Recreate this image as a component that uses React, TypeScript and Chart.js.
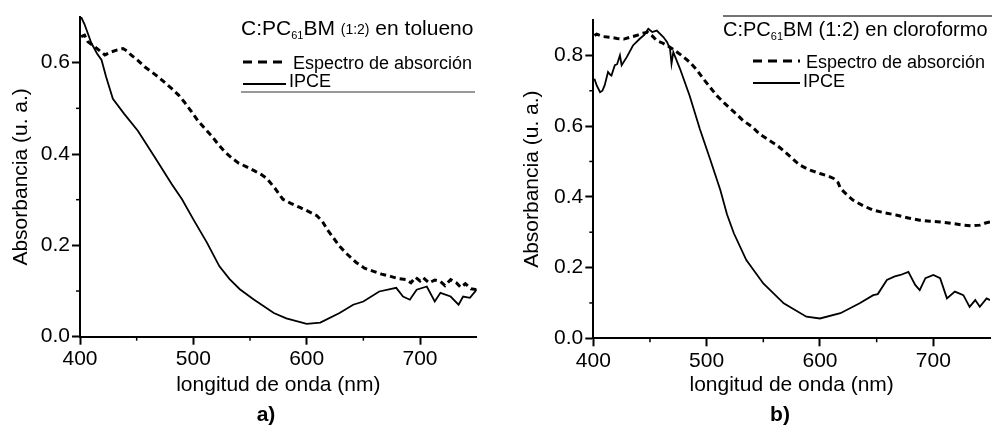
import React, { useEffect, useRef } from "react";
import { Chart, registerables } from "chart.js";
Chart.register(...registerables);

const FONT = "Arial, 'Liberation Sans', Helvetica, sans-serif";

// ---- a) tolueno ----
const TOL_ABS_X = [401, 404, 407, 413, 418, 422, 428, 433, 438, 442, 445, 451, 457, 463, 469, 475, 481, 487, 492, 498, 504, 510, 516, 522, 528, 534, 540, 547, 554, 560, 565, 572, 579, 586, 594, 601, 609, 614, 618, 624, 629, 636, 644, 651, 659, 666, 674, 681, 688, 692, 696, 700, 703, 708, 713, 718, 722, 727, 732, 736, 740, 745, 750];
const TOL_ABS_Y = [0.657, 0.66, 0.646, 0.635, 0.625, 0.617, 0.624, 0.628, 0.631, 0.625, 0.617, 0.605, 0.591, 0.58, 0.569, 0.556, 0.543, 0.529, 0.514, 0.494, 0.473, 0.456, 0.44, 0.421, 0.404, 0.391, 0.38, 0.372, 0.363, 0.355, 0.346, 0.325, 0.301, 0.292, 0.283, 0.275, 0.265, 0.252, 0.235, 0.215, 0.198, 0.18, 0.162, 0.15, 0.143, 0.137, 0.132, 0.127, 0.125, 0.118, 0.13, 0.122, 0.129, 0.118, 0.124, 0.121, 0.112, 0.125, 0.118, 0.108, 0.116, 0.105, 0.103];
const TOL_IPCE_X = [401, 404, 410, 415, 419, 423, 429, 439, 451, 466, 481, 490, 500, 512, 523, 532, 541, 553, 571, 582, 600, 612, 629, 641, 650, 664, 679, 685, 691, 697, 706, 713, 718, 727, 734, 738, 744, 750];
const TOL_IPCE_Y = [0.7, 0.684, 0.643, 0.62, 0.606, 0.569, 0.521, 0.488, 0.451, 0.393, 0.334, 0.301, 0.257, 0.206, 0.154, 0.126, 0.104, 0.082, 0.052, 0.04, 0.028, 0.031, 0.052, 0.07, 0.077, 0.099, 0.107, 0.088, 0.081, 0.103, 0.11, 0.077, 0.096, 0.088, 0.07, 0.088, 0.085, 0.103];

// ---- b) cloroformo ----
const CLO_ABS_X = [401, 403, 409, 415, 421, 427, 432, 438, 443, 448, 452, 456, 461, 465, 470, 474, 479, 485, 491, 497, 503, 509, 515, 521, 527, 532, 540, 547, 555, 562, 568, 575, 582, 590, 600, 606, 612, 616, 618, 624, 629, 638, 647, 657, 668, 678, 688, 697, 706, 716, 726, 734, 741, 746, 750];
const CLO_ABS_Y = [0.856, 0.86, 0.853, 0.851, 0.848, 0.846, 0.851, 0.856, 0.862, 0.865, 0.855, 0.842, 0.835, 0.828, 0.818, 0.809, 0.797, 0.781, 0.76, 0.734, 0.71, 0.686, 0.667, 0.649, 0.632, 0.616, 0.598, 0.577, 0.56, 0.546, 0.53, 0.51, 0.49, 0.477, 0.466, 0.46, 0.452, 0.44, 0.424, 0.405, 0.391, 0.375, 0.362, 0.355, 0.348, 0.34, 0.334, 0.331, 0.329, 0.325, 0.32, 0.318, 0.32, 0.326, 0.329];
const CLO_IPCE_X = [401, 403, 406, 408, 410, 413, 415, 416, 419, 421, 423.5, 425, 429.5, 435, 441, 445, 448.5, 452, 456, 462, 465, 467.7, 469, 470.6, 476.5, 485, 494, 503, 512, 518, 524, 535, 550, 568, 588, 600, 618, 635, 647, 651, 659, 666, 671, 678, 684, 688, 693, 700, 706, 712, 719, 726.5, 732, 737, 741, 747, 750];
const CLO_IPCE_Y = [0.734, 0.715, 0.696, 0.7, 0.715, 0.753, 0.745, 0.743, 0.772, 0.775, 0.8, 0.772, 0.795, 0.828, 0.847, 0.858, 0.875, 0.866, 0.87, 0.851, 0.838, 0.818, 0.776, 0.809, 0.762, 0.686, 0.592, 0.507, 0.42, 0.35, 0.297, 0.221, 0.155, 0.099, 0.061, 0.056, 0.071, 0.099, 0.122, 0.125, 0.165, 0.175, 0.179, 0.188, 0.151, 0.136, 0.17, 0.179, 0.17, 0.113, 0.132, 0.122, 0.089, 0.108, 0.089, 0.113, 0.108];

const X_MIN = 400;
const X_MAX = 750;
const X_STEP = 50;
const X_LABELS = [400, 500, 600, 700];
const Y_LABELS = [0, 0.2, 0.4, 0.6, 0.8];
const Y_TITLE = "Absorbancia (u. a.)";
const X_TITLE = "longitud de onda (nm)";
const ABS_LABEL = "Espectro de absorción";
const IPCE_LABEL = "IPCE";

function pts(xs: number[], ys: number[]) {
  return xs.map((x, i) => ({ x, y: ys[i] }));
}

type Spec = {
  absX: number[]; absY: number[]; ipceX: number[]; ipceY: number[];
  yMax: number; width: number;
  area: { left: number; right: number; top: number; bottom: number };
  yTitlePad: number;
  tag: string; tagX: number;
  legend: (ctx: CanvasRenderingContext2D) => void;
};

function line(ctx: CanvasRenderingContext2D, x1: number, y1: number, x2: number, y2: number) {
  ctx.beginPath(); ctx.moveTo(x1, y1); ctx.lineTo(x2, y2); ctx.stroke();
}

function drawParts(ctx: CanvasRenderingContext2D, x: number, y: number, parts: [string, number, number][]) {
  let cx = x;
  ctx.textBaseline = "middle";
  ctx.textAlign = "left";
  for (const [t, size, dy] of parts) {
    ctx.font = `${size}px ${FONT}`;
    ctx.fillText(t, cx, y + dy);
    cx += ctx.measureText(t).width;
  }
}

function legendA(ctx: CanvasRenderingContext2D) {
  ctx.save();
  ctx.fillStyle = "#000";
  drawParts(ctx, 241, 29, [["C:PC", 21, 0], ["61", 11, 7], ["BM ", 21, 0], ["(1:2)", 14, 1], [" en tolueno", 21, 0]]);
  ctx.strokeStyle = "#000";
  ctx.lineWidth = 3;
  ctx.setLineDash([9, 6]);
  line(ctx, 243, 62, 285, 62);
  ctx.setLineDash([]);
  ctx.lineWidth = 2;
  line(ctx, 243, 84, 286, 84);
  ctx.lineWidth = 1;
  ctx.strokeStyle = "#333";
  line(ctx, 241, 92, 475, 92);
  ctx.font = `18px ${FONT}`;
  ctx.textBaseline = "middle";
  ctx.fillText(ABS_LABEL, 293, 64);
  ctx.fillText(IPCE_LABEL, 289, 82);
  ctx.restore();
}

function legendB(ctx: CanvasRenderingContext2D) {
  ctx.save();
  ctx.fillStyle = "#000";
  ctx.strokeStyle = "#444";
  ctx.lineWidth = 1.5;
  line(ctx, 223, 16, 492, 16);
  drawParts(ctx, 223, 30, [["C:PC", 20, 0], ["61", 11, 7], ["BM ", 20, 0], ["(1:2)", 20, 0], [" en cloroformo", 20, 0]]);
  ctx.strokeStyle = "#000";
  ctx.lineWidth = 3;
  ctx.setLineDash([9, 6]);
  line(ctx, 253, 61, 300, 61);
  ctx.setLineDash([]);
  ctx.lineWidth = 2;
  line(ctx, 253, 83, 300, 83);
  ctx.font = `18px ${FONT}`;
  ctx.textBaseline = "middle";
  ctx.fillText(ABS_LABEL, 306, 63);
  ctx.fillText(IPCE_LABEL, 303, 82);
  ctx.restore();
}

function buildChart(canvas: HTMLCanvasElement, s: Spec) {
  const H = 426;
  const extras = {
    id: "extras",
    afterDraw(chart: any) {
      const ctx = chart.ctx as CanvasRenderingContext2D;
      const xs = chart.scales.x;
      const ys = chart.scales.y;
      ctx.save();
      ctx.strokeStyle = "#000";
      ctx.lineWidth = 1.5;
      xs.ticks.forEach((t: any) => {
        if (!t.label && t.value < X_MAX) {
          const px = xs.getPixelForValue(t.value);
          line(ctx, px, xs.top, px, xs.top + 4);
        }
      });
      ys.ticks.forEach((t: any) => {
        if (!t.label && t.value < s.yMax - 1e-6) {
          const py = ys.getPixelForValue(t.value);
          line(ctx, ys.right - 4, py, ys.right, py);
        }
      });
      ctx.restore();
      s.legend(ctx);
      ctx.save();
      ctx.fillStyle = "#000";
      ctx.font = `bold 21px ${FONT}`;
      ctx.textAlign = "center";
      ctx.textBaseline = "middle";
      ctx.fillText(s.tag, s.tagX, 415);
      ctx.restore();
    },
  };
  return new Chart(canvas, {
    type: "line",
    data: {
      datasets: [
        {
          label: ABS_LABEL,
          data: pts(s.absX, s.absY),
          borderColor: "#000",
          borderWidth: 3,
          borderDash: [6, 4],
          pointRadius: 0,
          tension: 0,
          fill: false,
        },
        {
          label: IPCE_LABEL,
          data: pts(s.ipceX, s.ipceY),
          borderColor: "#000",
          borderWidth: 1.8,
          pointRadius: 0,
          tension: 0,
          fill: false,
        },
      ],
    },
    options: {
      responsive: false,
      animation: false,
      devicePixelRatio: 1,
      layout: { padding: { left: 0, top: s.area.top, right: s.width - s.area.right, bottom: 0 } },
      plugins: { legend: { display: false }, tooltip: { enabled: false } },
      scales: {
        x: {
          type: "linear",
          min: X_MIN,
          max: X_MAX,
          afterFit: (sc: any) => { sc.height = H - s.area.bottom; },
          border: { display: true, color: "#000", width: 2 },
          grid: {
            drawOnChartArea: false,
            drawTicks: true,
            tickLength: 8,
            tickWidth: 2,
            tickColor: (c: any) => (c.tick && c.tick.label ? "#000" : "rgba(0,0,0,0)"),
          },
          ticks: {
            stepSize: X_STEP,
            autoSkip: false,
            maxRotation: 0,
            padding: 2,
            color: "#000",
            font: { family: FONT, size: 21 },
            callback: (v: any) => (X_LABELS.includes(Number(v)) ? String(v) : ""),
          },
          title: {
            display: true,
            text: X_TITLE,
            color: "#000",
            font: { family: FONT, size: 21 },
            padding: { top: 0, bottom: 28 },
          },
        },
        y: {
          type: "linear",
          min: 0,
          max: s.yMax,
          afterFit: (sc: any) => { sc.width = s.area.left; },
          border: { display: true, color: "#000", width: 2 },
          grid: {
            drawOnChartArea: false,
            drawTicks: true,
            tickLength: 8,
            tickWidth: 2,
            tickColor: (c: any) => (c.tick && c.tick.label ? "#000" : "rgba(0,0,0,0)"),
          },
          ticks: {
            stepSize: 0.1,
            autoSkip: false,
            padding: 2,
            color: "#000",
            font: { family: FONT, size: 21 },
            callback: (v: any) => {
              const r = Math.round(Number(v) * 10) / 10;
              return Y_LABELS.some((l) => Math.abs(l - r) < 1e-6) && r < s.yMax - 1e-6 ? r.toFixed(1) : "";
            },
          },
          title: {
            display: true,
            text: Y_TITLE,
            color: "#000",
            font: { family: FONT, size: 21 },
            padding: { top: s.yTitlePad, bottom: 0 },
          },
        },
      },
    },
    plugins: [extras],
  } as any);
}

export default function App() {
  const leftRef = useRef<HTMLCanvasElement>(null);
  const rightRef = useRef<HTMLCanvasElement>(null);
  useEffect(() => {
    const a = buildChart(leftRef.current!, {
      absX: TOL_ABS_X, absY: TOL_ABS_Y, ipceX: TOL_IPCE_X, ipceY: TOL_IPCE_Y,
      yMax: 0.7, width: 500,
      area: { left: 80, right: 476.7, top: 17, bottom: 336.7 },
      yTitlePad: 9, tag: "a)", tagX: 266, legend: legendA,
    });
    const b = buildChart(rightRef.current!, {
      absX: CLO_ABS_X, absY: CLO_ABS_Y, ipceX: CLO_IPCE_X, ipceY: CLO_IPCE_Y,
      yMax: 0.9, width: 492,
      area: { left: 93.3, right: 490, top: 20, bottom: 338.3 },
      yTitlePad: 20, tag: "b)", tagX: 280, legend: legendB,
    });
    return () => { a.destroy(); b.destroy(); };
  }, []);
  return (
    <div style={{ position: "fixed", left: 0, top: 0, width: 992, height: 426, background: "#fff", overflow: "hidden" }}>
      <canvas ref={leftRef} width={500} height={426} style={{ position: "absolute", left: 0, top: 0, width: 500, height: 426 }} />
      <canvas ref={rightRef} width={492} height={426} style={{ position: "absolute", left: 500, top: 0, width: 492, height: 426 }} />
    </div>
  );
}
